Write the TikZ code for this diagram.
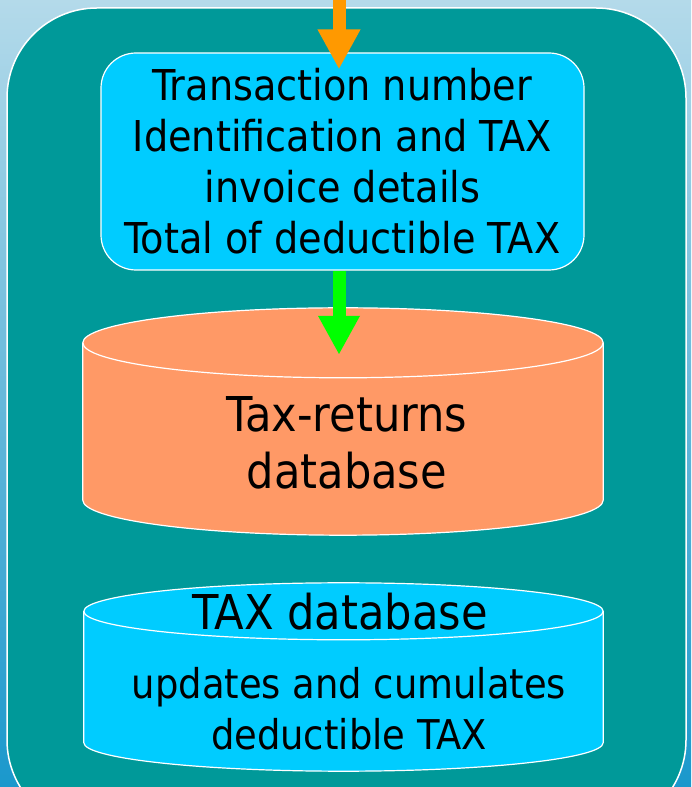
\documentclass[tikz,border=0pt]{standalone}
\usepackage{fontspec}
\setmainfont{DejaVu Sans Condensed}
\usetikzlibrary{calc, positioning, arrows.meta}

\definecolor{bgtop}{HTML}{B4DAEA}
\definecolor{bgmid}{HTML}{7DB8D8}
\definecolor{bgbot}{HTML}{1A98CC}
\definecolor{panelteal}{HTML}{009999}
\definecolor{boxcyan}{HTML}{00CCFF}
\definecolor{drumorange}{HTML}{FF9966}
\definecolor{flowin}{HTML}{FF9900}
\definecolor{flowok}{HTML}{00FF00}

\tikzset{
  panel/.style={draw=white, line width=1.5pt, fill=panelteal, rounded corners=90pt},
  infobox/.style={draw=white, line width=1.2pt, fill=boxcyan, rounded corners=35pt,
    align=center, inner sep=0pt, font=\fontsize{42.5}{51}\selectfont},
  drumframe/.style={inner sep=0pt, draw=none},
  drum/.style={draw=white, line width=1.2pt},
  drumtext/.style={align=center, inner sep=0pt},
  flow/.style={line width=13pt},
}

% cylinder drawn round an empty frame node: #1 node, #2 end radius, #3 fill
\newcommand{\dbdrum}[3]{%
  \filldraw[drum, fill=#3] let \p1=(#1.north west), \p2=(#1.south east), \n1={0.5*(\x2-\x1)} in
    (\x1,\y1-#2) -- (\x1,\y2+#2)
    arc[start angle=180, end angle=360, x radius=\n1, y radius=#2]
    -- (\x2,\y1-#2)
    arc[start angle=0, end angle=180, x radius=\n1, y radius=#2] -- cycle;
  \draw[drum] let \p1=(#1.north west), \p2=(#1.south east), \n1={0.5*(\x2-\x1)} in
    (\x1,\y1-#2) arc[start angle=180, end angle=360, x radius=\n1, y radius=#2];
}

\begin{document}
\begin{tikzpicture}[x=1pt, y=1pt]
    \useasboundingbox (0,0) rectangle (691,787);

    % Background and teal panel
    \fill[top color=bgtop, middle color=bgmid, bottom color=bgbot] (0,0) rectangle (691,787);
    \draw[panel] (7,779) rectangle (686,-43);

    % Invoice fields
    \node[infobox, minimum width=483pt, minimum height=217pt] (fields) at (342.5,625.5)
      {Transaction number\\Identification and TAX\\invoice details\\Total of deductible TAX};

    % Databases
    \node[drumframe, minimum width=520pt, minimum height=227pt] (taxret) at (343,365.5) {};
    \node[drumframe, minimum width=519pt, minimum height=188pt] (taxdb) at (343.5,110) {};
    \dbdrum{taxret}{35pt}{drumorange}
    \dbdrum{taxdb}{28.5pt}{boxcyan}

    \node[drumtext, font=\fontsize{48}{57}\selectfont] (taxretlbl) at (347,344) {Tax-returns\\database};
    \node[drumtext, font=\fontsize{48}{57}\selectfont] (taxdbname) at (340,175) {TAX database};
    \node[drumtext, font=\fontsize{41}{51}\selectfont] (taxdbnote) at (349,78)
      {updates and cumulates\\deductible TAX};

    % Flows
    \coordinate (feed) at (339,800);
    \draw[flow, flowin, -{Triangle[length=40pt, width=40pt]}, shorten >=-17pt]
      (feed) -- (feed |- fields.north);
    \draw[flow, flowok, -{Triangle[length=39pt, width=39pt]}, shorten >=-47pt]
      (fields.south -| feed) -- (feed |- taxret.north);
\end{tikzpicture}
\end{document}
